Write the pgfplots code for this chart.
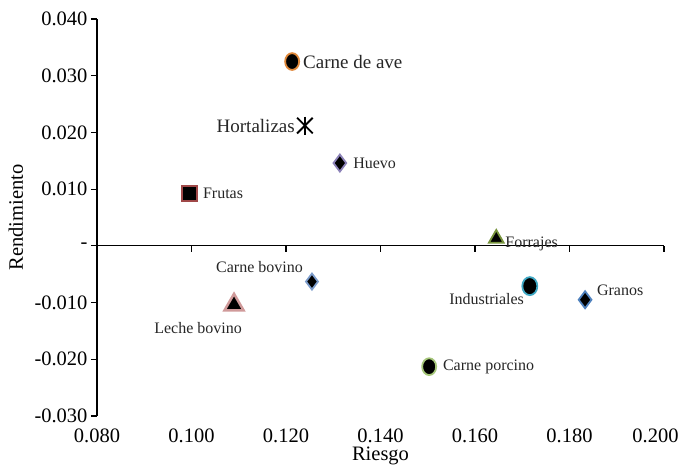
\documentclass[border=0pt]{standalone}
\usepackage{pgfplots}
\pgfplotsset{compat=1.18}
\usepackage{fontspec}
\setmainfont{Liberation Serif}

\definecolor{cave}{HTML}{E0883A}
\definecolor{cfrut}{HTML}{A04848}
\definecolor{chuev}{HTML}{8C82B8}
\definecolor{cforr}{HTML}{77933C}
\definecolor{cbov}{HTML}{7C9CCB}
\definecolor{cleche}{HTML}{D09A9A}
\definecolor{cind}{HTML}{3FA8C4}
\definecolor{cgran}{HTML}{4F81BD}
\definecolor{cporc}{HTML}{A6C77A}
\definecolor{txt}{HTML}{262626}

\newcommand{\lblbig}{\fontsize{19}{22}\selectfont}
\newcommand{\lblsml}{\fontsize{16}{19}\selectfont}
\newcommand{\ticfont}{\fontsize{20.5}{24}\selectfont}

\begin{document}
\begin{tikzpicture}
\begin{axis}[
    scale only axis,
    width=567pt, height=397pt,
    xmin=0.08, xmax=0.2,
    ymin=-0.03, ymax=0.04,
    scaled x ticks=false,
    scaled y ticks=false,
    axis x line=middle,
    axis y line=left,
    axis line style={-, line width=1.2pt},
    hide obscured x ticks=false,
    hide obscured y ticks=false,
    tick align=outside,
    major tick length=6pt,
    tick style={line width=1.2pt, black},
    xtick={0.08,0.1,0.12,0.14,0.16,0.18,0.2},
    xticklabels={0.080,0.100,0.120,0.140,0.160,0.180,{\hspace*{-17pt}0.200}},
    ytick={-0.03,-0.02,-0.01,0,0.01,0.02,0.03,0.04},
    yticklabels={-0.030,-0.020,-0.010,-,0.010,0.020,0.030,0.040},
    ticklabel style={font=\ticfont, text=black},
    xticklabel style={yshift=-173pt, anchor=north},
    xlabel={Riesgo},
    ylabel={Rendimiento},
    xlabel style={at={(axis description cs:0.5,-0.0781)}, anchor=north, inner sep=0pt, font=\ticfont},
    ylabel style={at={(axis description cs:-0.130,0.5)}, anchor=south, inner sep=0pt, font=\ticfont},
    clip=false,
    every axis plot/.append style={only marks, line width=1.8pt},
]
% Carne de ave
\addplot[mark=*, mark size=7pt, mark options={yscale=1.2, draw=cave, fill=black}] coordinates {(0.1213,0.0325)};
% Hortalizas
\addplot[mark=x, mark size=11pt, mark options={draw=black, line width=1.8pt}] coordinates {(0.124,0.0212)};
\addplot[mark=|, mark size=9pt, mark options={draw=black, line width=1.8pt}] coordinates {(0.124,0.0212)};
% Huevo
\addplot[mark=diamond*, mark size=8.5pt, mark options={draw=chuev, fill=black}] coordinates {(0.1314,0.0146)};
% Frutas
\addplot[mark=square*, mark size=7.5pt, mark options={draw=cfrut, fill=black}] coordinates {(0.0995,0.0092)};
% Forrajes
\addplot[mark=triangle*, mark size=8.5pt, mark options={draw=cforr, fill=black}] coordinates {(0.1645,0.0013)};
% Carne bovino
\addplot[mark=diamond*, mark size=8pt, mark options={draw=cbov, fill=black}] coordinates {(0.1255,-0.0063)};
% Leche bovino
\addplot[mark=triangle*, mark size=11pt, mark options={draw=cleche, fill=black, line width=2.5pt}] coordinates {(0.109,-0.0104)};
% Industriales
\addplot[mark=*, mark size=7.5pt, mark options={yscale=1.2, draw=cind, fill=black}] coordinates {(0.1716,-0.0071)};
% Granos
\addplot[mark=diamond*, mark size=8.5pt, mark options={draw=cgran, fill=black}] coordinates {(0.1833,-0.0095)};
% Carne porcino
\addplot[mark=*, mark size=7pt, mark options={yscale=1.2, draw=cporc, fill=black}] coordinates {(0.1503,-0.0213)};

\node[anchor=west, inner sep=0pt, text=txt, font=\lblbig] at (axis cs:0.1236,0.03245) {Carne de ave};
\node[anchor=east, inner sep=0pt, text=txt, font=\lblbig] at (axis cs:0.1219,0.0212) {Hortalizas};
\node[anchor=west, inner sep=0pt, text=txt, font=\lblsml] at (axis cs:0.1342,0.0146) {Huevo};
\node[anchor=west, inner sep=0pt, text=txt, font=\lblsml] at (axis cs:0.1024,0.0092) {Frutas};
\node[anchor=west, inner sep=0pt, text=txt, font=\lblsml] at (axis cs:0.1664,0.0004) {Forrajes};
\node[anchor=east, inner sep=0pt, text=txt, font=\lblsml] at (axis cs:0.1236,-0.0037) {Carne bovino};
\node[inner sep=0pt, text=txt, font=\lblsml] at (axis cs:0.1014,-0.0145) {Leche bovino};
\node[anchor=east, inner sep=0pt, text=txt, font=\lblsml] at (axis cs:0.1704,-0.0094) {Industriales};
\node[anchor=west, inner sep=0pt, text=txt, font=\lblsml] at (axis cs:0.1858,-0.0079) {Granos};
\node[anchor=west, inner sep=0pt, text=txt, font=\lblsml] at (axis cs:0.1532,-0.0213) {Carne porcino};

\coordinate (BL) at (axis description cs:0,0);
\coordinate (TR) at (axis description cs:1,1);
\end{axis}
\pgfresetboundingbox
\path[use as bounding box] ([shift={(-97pt,-51pt)}]BL) rectangle ([shift={(17pt,19pt)}]TR);
\end{tikzpicture}
\end{document}
